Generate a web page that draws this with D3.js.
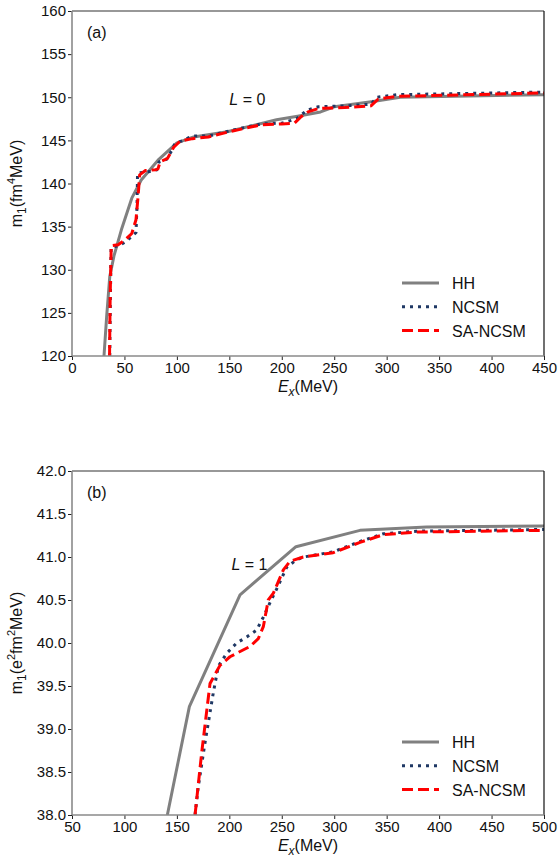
<!DOCTYPE html>
<html>
<head>
<meta charset="utf-8">
<script src="https://cdn.jsdelivr.net/npm/d3@7"></script>
<style>
  body { margin: 0; background: #fff; }
  text { font-family: "Liberation Sans", Arial, sans-serif; }
</style>
</head>
<body>
<script>
var svgWidth = 559;
var svgHeight = 860;

// panel (a) : L = 0, [Ex (MeV), m1]
var hhA = [[30.5,120],[33,124.5],[36,129.2],[40,131.6],[47,134.6],[57,138.3],[66,140.4],[82,142.7],[100,144.7],[116,145.4],[148,146.0],[195,147.4],[215,147.8],[237,148.3],[250,148.9],[287,149.5],[313,150.0],[450,150.3]];
var ncsmA = [[36,120],[36.5,126],[37.3,132.6],[45,132.8],[52,133.3],[58,134.0],[61,134.3],[62,137.5],[62.5,141.2],[68,141.3],[75,141.4],[81,141.6],[83,142.5],[90,142.8],[95,143.8],[98,144.6],[104,144.9],[115,145.5],[130,145.5],[150,146.1],[180,146.9],[200,147.0],[214,147.5],[224,148.5],[235,148.9],[260,149.0],[285,149.2],[291,150.0],[310,150.3],[450,150.6]];
var saA = [[35.8,120],[36.4,127],[37.4,132.8],[44,132.9],[50,133.4],[57,134.2],[61,135.8],[63,138.5],[64.5,141.0],[70,141.5],[80,141.6],[82,141.7],[84,142.5],[91,142.9],[97,144.2],[103,144.9],[115,145.2],[130,145.4],[150,146.0],[180,146.8],[200,146.9],[212,147.0],[218,147.7],[225,148.3],[235,148.7],[260,148.8],[285,149.0],[292,149.8],[310,150.1],[450,150.5]];

// panel (b) : L = 1
var hhB = [[140.9,38],[161.9,39.26],[210.2,40.56],[263.5,41.12],[324.6,41.31],[388,41.35],[500,41.36]];
var ncsmB = [[167.3,38],[170.4,38.33],[176.8,38.84],[184.7,39.42],[189.5,39.73],[197.5,39.88],[207,40.0],[216.6,40.07],[226,40.15],[232.4,40.3],[238,40.45],[245.2,40.63],[254.7,40.88],[264.2,40.97],[271,41.0],[299,41.06],[324.6,41.18],[346.8,41.27],[378.5,41.3],[500,41.32]];
var saB = [[167.3,38],[173.6,38.72],[181.6,39.53],[191.1,39.74],[200.6,39.84],[219.7,39.96],[227.6,40.05],[232.4,40.19],[237.1,40.5],[242,40.58],[251.5,40.85],[257.8,40.95],[270.5,41.0],[299,41.05],[324.6,41.17],[346.8,41.26],[378.5,41.29],[500,41.31]];

var ticksXA = [0,50,100,150,200,250,300,350,400,450];
var ticksYA = [120,125,130,135,140,145,150,155,160];
var ticksXB = [50,100,150,200,250,300,350,400,450,500];
var ticksYB = [38.0,38.5,39.0,39.5,40.0,40.5,41.0,41.5,42.0];
var legendNames = ["HH", "NCSM", "SA-NCSM"];

var svg = d3.select("body").append("svg").attr("width", svgWidth).attr("height", svgHeight);

var styles = [
    {stroke: "#808080", width: 3, dash: null},
    {stroke: "#1f3864", width: 3, dash: "3,5"},
    {stroke: "#ff0000", width: 3, dash: "11,5"}
];

function drawPanel(cfg)
{
    var left = 72, w = 472;
    var g = svg.append("g").attr("transform", "translate(" + left + "," + cfg.top + ")");
    var x = d3.scaleLinear().domain(cfg.xdom).range([0, w]);
    var y = d3.scaleLinear().domain(cfg.ydom).range([cfg.h, 0]);

    var clipId = "clip" + cfg.name;
    g.append("clipPath").attr("id", clipId)
        .append("rect").attr("width", w).attr("height", cfg.h);

    // axes
    var xAxis = d3.axisBottom(x).tickValues(cfg.xticks).tickSize(4).tickPadding(2).tickFormat(d3.format("d"));
    var yAxis = d3.axisLeft(y).tickValues(cfg.yticks).tickSize(4).tickPadding(2).tickFormat(cfg.yfmt);

    var gx = g.append("g").attr("transform", "translate(0," + cfg.h + ")").call(xAxis);
    var gy = g.append("g").call(yAxis);
    [gx, gy].forEach(function(a) {
        a.select(".domain").remove();
        a.selectAll(".tick line").attr("stroke", "#222").attr("stroke-width", 1);
        a.selectAll(".tick text").attr("fill", "#111").style("font-size", "15px")
            .style("font-family", "'Liberation Sans', Arial, sans-serif");
    });

    // curves
    var line = d3.line().x(function(d) { return x(d[0]); }).y(function(d) { return y(d[1]); });
    var cg = g.append("g").attr("clip-path", "url(#" + clipId + ")");
    cfg.series.forEach(function(s, i) {
        cg.append("path").datum(s)
            .attr("d", line)
            .attr("fill", "none")
            .attr("stroke", styles[i].stroke)
            .attr("stroke-width", styles[i].width)
            .attr("stroke-dasharray", styles[i].dash)
            .attr("stroke-linejoin", "round");
    });

    // spines
    g.append("line").attr("x1", 0).attr("x2", w).attr("y1", 0).attr("y2", 0).attr("stroke", "#333").attr("stroke-width", 1.2);
    g.append("line").attr("x1", w).attr("x2", w).attr("y1", 0).attr("y2", cfg.h).attr("stroke", "#111").attr("stroke-width", 1.2);
    g.append("line").attr("x1", 0).attr("x2", 0).attr("y1", 0).attr("y2", cfg.h).attr("stroke", "#8a8a8a").attr("stroke-width", 1.6);
    g.append("line").attr("x1", 0).attr("x2", w).attr("y1", cfg.h).attr("y2", cfg.h).attr("stroke", "#8a8a8a").attr("stroke-width", 1.6);

    // panel label
    g.append("text").attr("x", 15).attr("y", 27).style("font-size", "16px").attr("fill", "#111").text(cfg.label);

    // L label
    var lt = g.append("text").attr("x", x(cfg.lpos[0])).attr("y", y(cfg.lpos[1]))
        .style("font-size", "16px").attr("fill", "#111");
    lt.append("tspan").style("font-style", "italic").text("L");
    lt.append("tspan").text(" = " + cfg.lval);

    // legend
    var leg = g.append("g").attr("transform", "translate(330," + (cfg.h - 73) + ")");
    legendNames.forEach(function(n, i) {
        leg.append("line").attr("x1", 0).attr("x2", 37).attr("y1", i * 23.8).attr("y2", i * 23.8)
            .attr("stroke", styles[i].stroke).attr("stroke-width", styles[i].width)
            .attr("stroke-dasharray", styles[i].dash);
        leg.append("text").attr("x", 50).attr("y", i * 23.8 + 6)
            .style("font-size", "16px").attr("fill", "#111").text(n);
    });

    // x label
    var xl = g.append("text").attr("x", w / 2).attr("y", cfg.h + 36).attr("text-anchor", "middle")
        .style("font-size", "16px").attr("fill", "#111");
    xl.append("tspan").style("font-style", "italic").text("E");
    xl.append("tspan").style("font-style", "italic").style("font-size", "12px").attr("dy", 4).text("x");
    xl.append("tspan").attr("dy", -4).text("(MeV)");

    // y label
    var yl = g.append("text").attr("transform", "translate(-50," + (cfg.h / 2) + ") rotate(-90)")
        .attr("text-anchor", "middle").style("font-size", "16px").attr("fill", "#111");
    yl.append("tspan").text("m");
    yl.append("tspan").style("font-size", "12px").attr("dy", 4).text("1");
    cfg.yunit.forEach(function(p, i) {
        var t = yl.append("tspan").text(p.t);
        if (p.sup) t.style("font-size", "11px").attr("dy", -7);
        else if (i > 0 && cfg.yunit[i - 1].sup) t.attr("dy", 7);
        else if (i == 0) t.attr("dy", -4);
    });
}

drawPanel({
    name: "a", top: 11, h: 345,
    xdom: [0, 450], ydom: [120, 160],
    xticks: ticksXA, yticks: ticksYA, yfmt: d3.format("d"),
    series: [hhA, ncsmA, saA],
    label: "(a)", lpos: [150, 149.1], lval: "0",
    yunit: [{t: "(fm"}, {t: "4", sup: true}, {t: "MeV)"}]
});

drawPanel({
    name: "b", top: 471, h: 344,
    xdom: [50, 500], ydom: [38, 42],
    xticks: ticksXB, yticks: ticksYB, yfmt: d3.format(".1f"),
    series: [hhB, ncsmB, saB],
    label: "(b)", lpos: [202, 40.85], lval: "1",
    yunit: [{t: "(e"}, {t: "2", sup: true}, {t: "fm"}, {t: "2", sup: true}, {t: "MeV)"}]
});
</script>
</body>
</html>
